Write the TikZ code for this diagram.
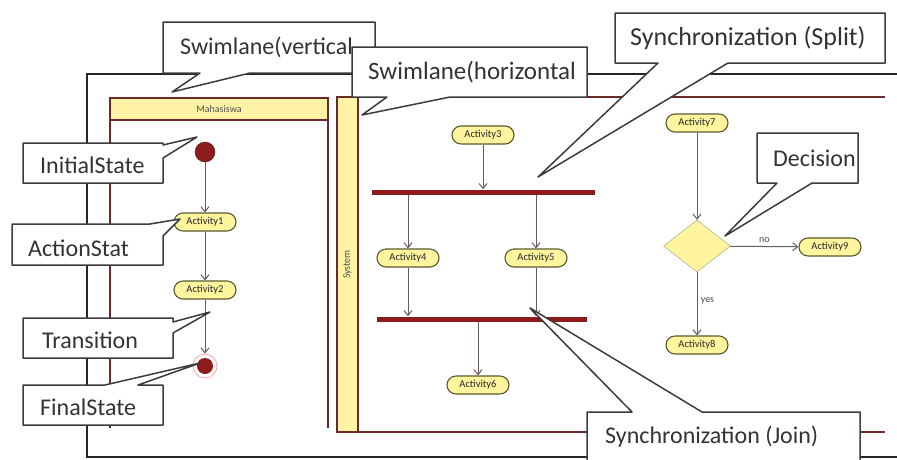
\documentclass[tikz,border=0pt]{standalone}
\usepackage{fontspec}
\setmainfont{Carlito}
\usepackage{tikz}
\usetikzlibrary{arrows.meta, shapes.geometric, positioning}
\definecolor{lanered}{HTML}{6B2A2A}
\definecolor{barred}{HTML}{8E1B1B}
\definecolor{laneyellow}{HTML}{FFF4A6}
\definecolor{actyellow}{HTML}{FFF59E}
\definecolor{actborder}{HTML}{5A5A30}
\definecolor{flowgray}{HTML}{6A5A60}
\definecolor{notegray}{HTML}{3C3C3C}
\tikzset{
  x=1pt, y=-1pt, % pixel like coordinates, origin in the top left corner
  >={Straight Barb[length=5pt,width=8pt]}, % open arrow heads for the flows
  flow/.style={->, draw=flowgray, line width=1pt}, % control flow between activities
  lane/.style={draw=lanered, line width=1.2pt}, % borders of the swimlanes
  note/.style={draw=notegray, fill=white, line width=1.5pt, line join=round}, % callout outline
  notetext/.style={anchor=west, inner sep=0pt, font=\fontsize{24}{26}\selectfont, text=black!80}, % callout text
}

\begin{document}
\begin{tikzpicture} [activity/.style={rectangle, rounded corners=9pt, draw=actborder, fill=actyellow, line width=1.1pt, minimum width=62pt, minimum height=18pt, inner sep=1pt, font=\fontsize{10.5}{11}\selectfont, text=black!85},
                     bar/.style={rectangle, fill=barred, minimum width=223pt, minimum height=5pt, inner sep=0pt},
                     small/.style={font=\fontsize{10}{11}\selectfont, text=black!70}]
    \clip (0,0) rectangle (897,459);
    \fill[white] (0,0) rectangle (897,459);

    % frame
    \draw[line width=2.5pt, black!85] (897,74) -- (87,74) -- (87,457) -- (897,457);

    % swimlanes
    \draw[lane] (110,120) -- (110,428) (328,120) -- (328,428);
    \node[lane, fill=laneyellow, minimum width=218pt, minimum height=22pt, inner sep=0pt, small] (mhsLane) at (219,109) {Mahasiswa};
    \draw[lane] (358,97) -- (885,97) (337,432) -- (885,432);
    \node[lane, fill=laneyellow, rotate=90, minimum width=335pt, minimum height=21pt, inner sep=0pt, small] (sysLane) at (347.5,264.5) {System};

    % activities
    \node[circle, fill=barred, draw=barred!70!black, minimum size=20pt, inner sep=0pt] (start) at (205,152) {};
    \node[activity] (act1) at (205,222) {Activity1};
    \node[activity] (act2) at (205,290) {Activity2};
    \node[circle, draw=red!35, line width=0.8pt, minimum size=24pt, inner sep=0pt,
          path picture={\fill[barred] (path picture bounding box.center) circle (8pt);}] (final) at (205,366) {};

    \node[activity] (act3) at (483,135) {Activity3};
    \node[bar] (split) at (483.5,192) {};
    \node[activity] (act4) at (408,258) {Activity4};
    \node[activity] (act5) at (536,258) {Activity5};
    \node[bar, minimum width=210pt] (join) at (482,319) {};
    \node[activity] (act6) at (478,385) {Activity6};

    \node[activity] (act7) at (697,123) {Activity7};
    \node[diamond, aspect=1.3, fill=actyellow, draw=actborder!60, minimum width=67pt, minimum height=52pt, inner sep=0pt] (decide) at (697,246) {};
    \node[activity] (act9) at (830,247) {Activity9};
    \node[activity] (act8) at (697,345) {Activity8};

    \path (start) edge[flow] (act1)
          (act1) edge[flow] (act2)
          (act2) edge[flow] (final)

          (act3) edge[flow] (act3 |- split.north)
          (act4 |- split.south) edge[flow] (act4)
          (act5 |- split.south) edge[flow] (act5)
          (act4) edge[flow] (act4 |- join.north)
          (act5) edge[flow] (act5 |- join.north)
          (act6 |- join.south) edge[flow] (act6)

          (act7) edge[flow] (decide)
          (decide) edge[flow] node[above, small, pos=0.5] (noLbl) {no} (act9)
          (decide) edge[flow] node[right, small, pos=0.45] (yesLbl) {yes} (act8)
          ;

    % callouts
    \coordinate (tipVert) at (172,92);
    \coordinate (tipHorz) at (362,115);
    \coordinate (tipInit) at (197,137);
    \coordinate (tipAction) at (180,219);
    \coordinate (tipTrans) at (210,312);
    \coordinate (tipFinal) at (200,363);
    \coordinate (tipSplit) at (538,177);
    \coordinate (tipDecide) at (725,236);
    \coordinate (tipJoin) at (530,308);

    \draw[note] (163,22) -- (375,22) -- (375,73) -- (250,73) -- (tipVert) -- (200,73) -- (163,73) -- cycle;
    \node[notetext] (noteVert) at (180,47) {Swimlane(vertical};
    \draw[note] (352,47) -- (587,47) -- (587,97) -- (450,97) -- (tipHorz) -- (387,97) -- (352,97) -- cycle;
    \node[notetext, font=\fontsize{25}{27}\selectfont] (noteHorz) at (368,72) {Swimlane(horizontal};

    \draw[note] (23,143) -- (163,143) -- (163,145) -- (tipInit) -- (163,158) -- (163,183) -- (23,183) -- cycle;
    \node[notetext] (noteInit) at (40,165) {InitialState};
    \draw[note] (12,224) -- (150,224) -- (tipAction) -- (163,236) -- (163,265) -- (12,265) -- cycle;
    \node[notetext] (noteAction) at (28,248) {ActionStat};
    \draw[note] (23,318) -- (173,318) -- (173,322) -- (tipTrans) -- (173,333) -- (173,358) -- (23,358) -- cycle;
    \node[notetext] (noteTrans) at (42,340) {Transition};
    \draw[note] (23,385) -- (105,385) -- (tipFinal) -- (138,385) -- (163,385) -- (163,425) -- (23,425) -- cycle;
    \node[notetext] (noteFinal) at (40,407) {FinalState};

    \draw[note] (615,13) -- (885,13) -- (885,63) -- (728,63) -- (tipSplit) -- (658,63) -- (615,63) -- cycle;
    \node[notetext, font=\fontsize{26}{28}\selectfont] (noteSplit) at (630,38) {Synchronization (Split)};
    \draw[note] (757,133) -- (858,133) -- (858,183) -- (812,183) -- (tipDecide) -- (777,183) -- (757,183) -- cycle;
    \node[notetext] (noteDecide) at (773,158) {Decision};
    \draw[note] (587,412) -- (632,412) -- (tipJoin) -- (702,412) -- (860,412) -- (860,470) -- (587,470) -- cycle;
    \node[notetext] (noteJoin) at (605,437) {Synchronization (Join)};
\end{tikzpicture}
\end{document}
